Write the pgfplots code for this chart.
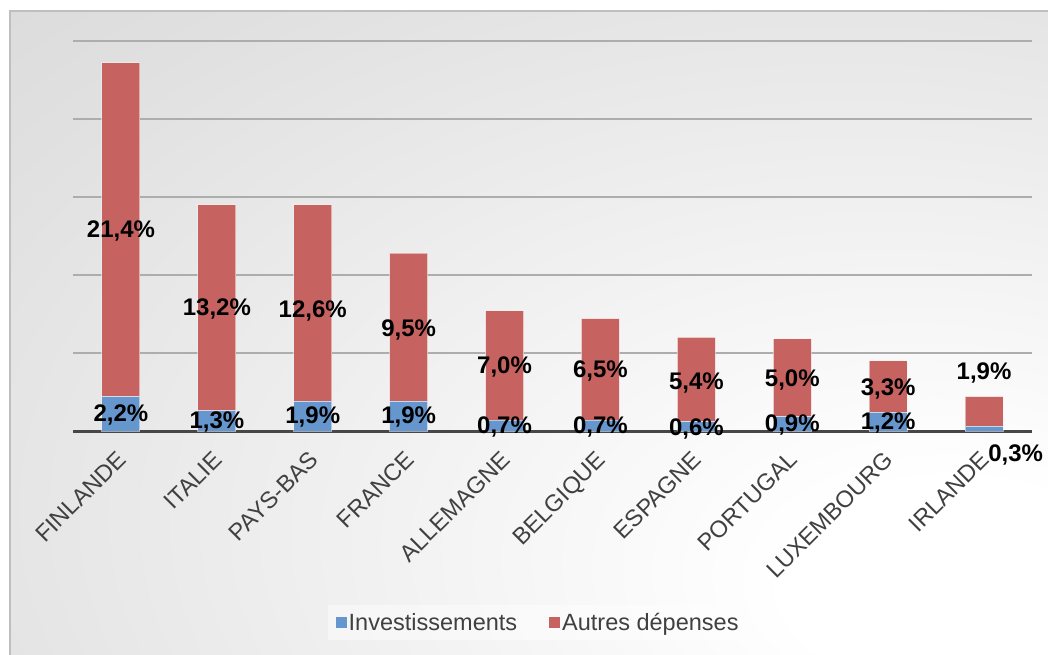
\documentclass[border=0pt]{standalone}
\usepackage{pgfplots}
\pgfplotsset{compat=1.18}
\usepackage{fontspec}
\setmainfont{Liberation Sans}
\definecolor{invbleu}{RGB}{101,150,205}
\definecolor{autrerouge}{RGB}{198,99,96}
\definecolor{texte}{RGB}{64,64,64}
\pgfdeclareradialshading{fondgraph}{\pgfpoint{22bp}{-21bp}}{color(0bp)=(white); color(8bp)=(white); color(45bp)=(black!12); color(75bp)=(black!20); color(110bp)=(black!25)}

\begin{document}
\begin{tikzpicture}
\useasboundingbox (0,0) rectangle (1048pt,654pt);
\fill[white] (0,0) rectangle (1048pt,654pt);
\shade[shading=fondgraph] (10pt,-2pt) rectangle (1050pt,643pt);
\draw[black!25, line width=1.5pt] (10pt,-2pt) -- (10pt,643pt) -- (1050pt,643pt);

\begin{axis}[
  at={(73pt,223pt)}, anchor=south west,
  width=959pt, height=390pt, scale only axis,
  ybar stacked, bar width=38pt,
  xmin=-0.5, xmax=9.5, ymin=0, ymax=25,
  xtick={0,...,9},
  xticklabels={FINLANDE,ITALIE,PAYS-BAS,FRANCE,ALLEMAGNE,BELGIQUE,ESPAGNE,PORTUGAL,LUXEMBOURG,IRLANDE},
  x tick label style={xshift=-5pt, yshift=-14pt, rotate=45, anchor=north east,
    font=\fontsize{23.5}{28}\selectfont, text=texte},
  ytick={0,5,...,25}, yticklabels={},
  major tick length=0pt,
  ymajorgrids, grid style={black!32, line width=1.8pt},
  axis lines*=left,
  y axis line style={draw=none},
  x axis line style={black!72, line width=3pt, -},
  legend columns=2,
  legend image code/.code={\fill[#1, fill opacity=1, draw=none] (0pt,-5.5pt) rectangle (11pt,5.5pt);},
  legend style={at={(0.485,-0.492)}, anchor=center, draw=none, fill=white,
    fill opacity=0.45, text opacity=1, font=\fontsize{23.5}{28}\selectfont, text=texte,
    /tikz/every even column/.append style={column sep=30pt}, inner xsep=8pt, inner ysep=6pt},
]
\addplot[fill=invbleu, draw=white, draw opacity=0.5, line width=1pt] coordinates {
  (0,2.2) (1,1.3) (2,1.9) (3,1.9) (4,0.7) (5,0.7) (6,0.6) (7,0.9) (8,1.2) (9,0.3)};
\addplot[fill=autrerouge, draw=white, draw opacity=0.5, line width=1pt] coordinates {
  (0,21.4) (1,13.2) (2,12.6) (3,9.5) (4,7.0) (5,6.5) (6,5.4) (7,5.0) (8,3.3) (9,1.9)};
\legend{Investissements, Autres dépenses}
\end{axis}

\begin{axis}[
  at={(73pt,223pt)}, anchor=south west,
  width=959pt, height=390pt, scale only axis,
  xmin=-0.5, xmax=9.5, ymin=0, ymax=25,
  hide axis, clip=false,
  point meta=explicit symbolic,
  nodes near coords,
  every node near coord/.style={anchor=center, font=\bfseries\fontsize{24}{28}\selectfont, text=black},
]
\addplot[draw=none, mark=none] coordinates {
  (0,1.0) [{2,2\%}] (1,0.6) [{1,3\%}] (2,0.9) [{1,9\%}] (3,0.9) [{1,9\%}]
  (4,0.25) [{0,7\%}] (5,0.25) [{0,7\%}] (6,0.15) [{0,6\%}] (7,0.4) [{0,9\%}]
  (8,0.5) [{1,2\%}] (9.33,-1.54) [{0,3\%}]};
\addplot[draw=none, mark=none] coordinates {
  (0,12.8) [{21,4\%}] (1,7.8) [{13,2\%}] (2,7.7) [{12,6\%}] (3,6.5) [{9,5\%}]
  (4,4.1) [{7,0\%}] (5,3.85) [{6,5\%}] (6,3.1) [{5,4\%}] (7,3.3) [{5,0\%}]
  (8,2.7) [{3,3\%}] (9,3.72) [{1,9\%}]};
\end{axis}
\end{tikzpicture}
\end{document}
